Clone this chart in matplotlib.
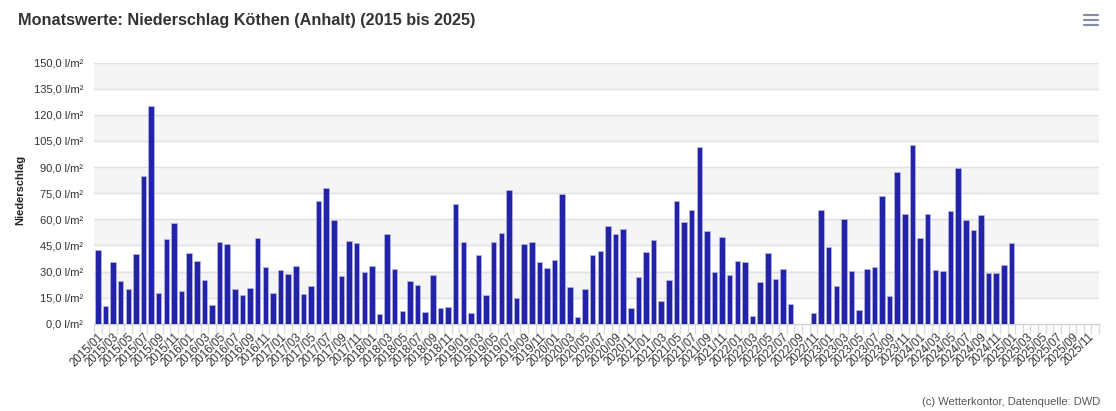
import numpy as np
import matplotlib
matplotlib.use("Agg")
import matplotlib.pyplot as plt
from matplotlib.lines import Line2D

plt.rcParams['font.family'] = ['Liberation Sans', 'DejaVu Sans']

title = "Monatswerte: Niederschlag Köthen (Anhalt) (2015 bis 2025)"
y_title = "Niederschlag"
credits = "(c) Wetterkontor, Datenquelle: DWD"

years = list(range(2015, 2026))
months = [f"{y}/{m:02d}" for y in years for m in range(1, 13)]

# Monthly precipitation (l/m²); None = no data
precip = [
    # 2015
    42.1, 10.0, 35.6, 24.3, 19.9, 39.8, 84.7, 125.1, 17.8, 48.5, 58.0, 18.8,
    # 2016
    40.8, 36.0, 24.9, 10.5, 46.9, 45.8, 19.7, 16.3, 20.7, 49.4, 32.6, 17.4,
    # 2017
    30.7, 28.4, 33.1, 16.9, 21.6, 70.7, 78.2, 59.6, 27.4, 47.3, 46.4, 29.9,
    # 2018
    33.1, 5.4, 51.5, 31.6, 7.1, 24.3, 22.2, 6.5, 28.0, 9.0, 9.6, 68.6,
    # 2019
    47.1, 5.9, 39.5, 16.7, 46.7, 51.9, 76.6, 14.9, 45.8, 47.1, 35.4, 32.2,
    # 2020
    36.6, 74.3, 21.1, 3.8, 20.1, 39.5, 41.8, 55.9, 51.3, 54.2, 8.8, 26.8,
    # 2021
    41.2, 48.3, 13.0, 25.1, 70.3, 58.2, 65.3, 101.7, 53.4, 29.7, 50.0, 28.0,
    # 2022
    35.8, 35.2, 4.4, 23.8, 40.4, 25.9, 31.2, 11.3, None, None, 5.9, 65.5,
    # 2023
    43.9, 21.6, 60.0, 30.1, 7.9, 31.6, 32.4, 73.4, 16.1, 87.4, 63.2, 102.5,
    # 2024
    49.4, 62.8, 30.7, 30.3, 64.9, 89.3, 59.4, 53.6, 62.5, 29.1, 29.1, 33.9,
    # 2025
    46.4, None, None, None, None, None, None, None, None, None, None, None,
]

y_ticks = [0, 15, 30, 45, 60, 75, 90, 105, 120, 135, 150]
y_ticklabels = [f"{v:.1f}".replace('.', ',') + " l/m²" for v in y_ticks]

fig = plt.figure(figsize=(11.16, 4.11), dpi=100)
ax = fig.add_axes([94/1116, 1 - 323.7/411, (1099-94)/1116, (323.7-62.7)/411])

n = len(months)
x = np.arange(n)
vals = np.array([np.nan if v is None else v for v in precip])

# bands and grid
for i in range(len(y_ticks) - 1):
    if i % 2 == 1:
        ax.axhspan(y_ticks[i], y_ticks[i+1], color='#f5f5f5', zorder=0, lw=0)
for t in y_ticks[1:]:
    ax.axhline(t, color='#e0e0e0', lw=1.0, zorder=1)

ax.bar(x, np.nan_to_num(vals), width=0.72, color='#2323aa',
       edgecolor='#b8b8e0', linewidth=0.5, zorder=3)

ax.set_xlim(-0.5, n - 0.5)
ax.set_ylim(0, 150)

ax.set_yticks(y_ticks)
ax.set_yticklabels(y_ticklabels, fontsize=8, color='#333333')
ax.tick_params(axis='y', length=0, pad=8)

ax.set_xticks(x[::2])
ax.set_xticklabels(months[::2], rotation=45, ha='right', rotation_mode='anchor',
                   fontsize=8.3, color='#333333')
ax.tick_params(axis='x', length=0, pad=5)
ax.set_xticks(np.arange(n + 1) - 0.5, minor=True)
ax.tick_params(axis='x', which='minor', length=7, width=1, color='#dcdcdc')

for s in ['top', 'right', 'left']:
    ax.spines[s].set_visible(False)
ax.spines['bottom'].set_color('#d0d0d0')
ax.spines['bottom'].set_linewidth(1)

fig.text(18/1116, 1 - 20/411, title, fontsize=11.7, fontweight='bold',
         color='#333333', va='center', ha='left')
fig.text(20/1116, 1 - 190/411, y_title, fontsize=8, fontweight='bold',
         rotation=90, va='center', ha='center', color='#222222')
fig.text(1100/1116, 1 - 402/411, credits, fontsize=8, color='#555555',
         ha='right', va='center')

# menu icon
for yy in (15, 20, 25):
    fig.add_artist(Line2D([1084/1116, 1098/1116], [1 - yy/411, 1 - yy/411],
                          color='#8090a0', lw=1.6, solid_capstyle='round'))

fig.savefig('out.png', dpi=100)
